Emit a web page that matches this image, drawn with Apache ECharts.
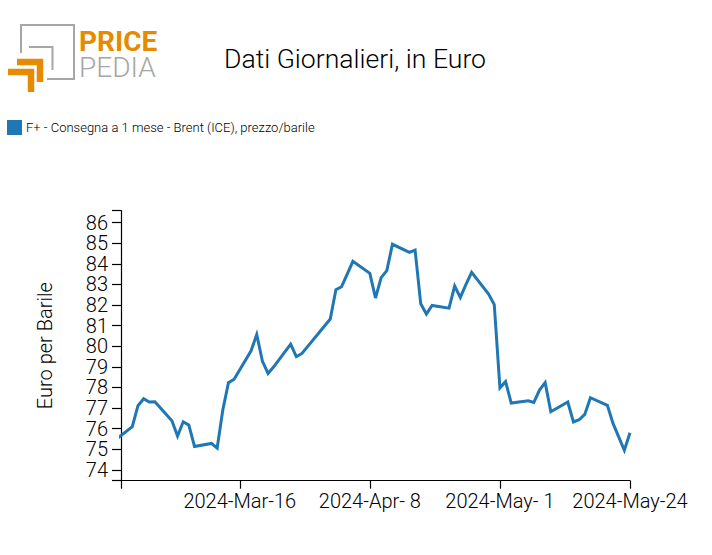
<!DOCTYPE html>
<html><head><meta charset="utf-8">
<script src="https://cdn.jsdelivr.net/npm/echarts@6/dist/echarts.min.js"></script>
<style>html,body{margin:0;padding:0;background:#fff}#c{width:712px;height:555px}</style>
</head><body><div id="c"></div>
<script>
const seriesName = 'F+ - Consegna a 1 mese - Brent (ICE), prezzo/barile';
const dates = ['2024-02-23','2024-02-26','2024-02-27','2024-02-28','2024-02-29','2024-03-01','2024-03-04','2024-03-05','2024-03-06','2024-03-07','2024-03-08','2024-03-11','2024-03-12','2024-03-13','2024-03-14','2024-03-15','2024-03-18','2024-03-19','2024-03-20','2024-03-21','2024-03-22','2024-03-25','2024-03-26','2024-03-27','2024-04-01','2024-04-02','2024-04-03','2024-04-04','2024-04-05','2024-04-08','2024-04-09','2024-04-10','2024-04-11','2024-04-12','2024-04-15','2024-04-16','2024-04-17','2024-04-18','2024-04-19','2024-04-22','2024-04-23','2024-04-24','2024-04-25','2024-04-26','2024-04-29','2024-04-30','2024-05-01','2024-05-02','2024-05-03','2024-05-06','2024-05-07','2024-05-08','2024-05-09','2024-05-10','2024-05-13','2024-05-14','2024-05-15','2024-05-16','2024-05-17','2024-05-20','2024-05-21','2024-05-22','2024-05-23','2024-05-24'];
const values = [75.45,76.09,77.11,77.45,77.29,77.30,76.38,75.64,76.33,76.17,75.13,75.28,75.05,76.90,78.23,78.40,79.78,80.57,79.28,78.68,79.0,80.10,79.49,79.65,81.32,82.74,82.89,83.5,84.12,83.54,82.34,83.33,83.67,84.95,84.56,84.67,82.06,81.56,81.98,81.85,82.92,82.37,83.0,83.59,82.53,82.02,77.98,78.28,77.24,77.35,77.27,77.87,78.23,76.82,77.29,76.32,76.43,76.69,77.5,77.13,76.25,75.6,74.95,75.8];
const yTicks = [74,75,76,77,78,79,80,81,82,83,84,85,86];
const yMin = 73.47, yMax = 86.58;
const xStart = '2024-02-24', xEnd = '2024-05-24';
const xTickDates = ['2024-03-16','2024-04-08','2024-05-01','2024-05-24'];
const xTickLabels = ['2024-Mar-16','2024-Apr- 8','2024-May- 1','2024-May-24'];
const FONT = 'Roboto';
const ts = d => new Date(d + 'T00:00:00Z').getTime();
const gray = '#a6a6a6', orange = '#e68a00';
const line = (points, stroke, lineWidth) => ({type:'polyline', shape:{points}, style:{stroke, lineWidth, fill:null}, silent:true});
const chart = echarts.init(document.getElementById('c'), null, {renderer:'svg'});
chart.setOption({
  animation:false,
  backgroundColor:'#fff',
  title:{text:'Dati Giornalieri, in Euro', left:350, top:40, textAlign:'center',
    textStyle:{fontFamily:FONT, fontWeight:300, fontSize:26.6, color:'#000'}},
  legend:{left:2, top:115, icon:'rect', itemWidth:15, itemHeight:15, itemGap:4,
    data:[seriesName], textStyle:{fontFamily:FONT, fontWeight:300, fontSize:13, color:'#000', padding:[0,0,0,-1]}},
  grid:{left:121, right:82, top:210.7, bottom:74.3, containLabel:false},
  xAxis:{type:'value', min:ts(xStart), max:ts(xEnd),
    splitLine:{show:false},
    axisLine:{show:true, onZero:false, lineStyle:{color:'#000', width:1.2}},
    axisTick:{show:true, length:8, lineStyle:{color:'#000', width:1.2}, customValues:[ts(xStart)].concat(xTickDates.map(ts))},
    axisLabel:{show:true, hideOverlap:false, showMinLabel:true, showMaxLabel:true, margin:10, fontFamily:FONT, fontWeight:300, fontSize:20, color:'#000',
      customValues:xTickDates.map(ts),
      formatter:v => { const i = xTickDates.map(ts).indexOf(+v); return i>=0 ? xTickLabels[i] : ''; }}},
  yAxis:{type:'value', min:yMin, max:yMax,
    name:'Euro per Barile', nameLocation:'middle', nameGap:66, nameRotate:90,
    nameTextStyle:{fontFamily:FONT, fontWeight:300, fontSize:20, color:'#000'},
    splitLine:{show:false},
    axisLine:{show:true, onZero:false, lineStyle:{color:'#000', width:1.2}},
    axisTick:{show:true, length:9, lineStyle:{color:'#000', width:1.2}, customValues:[yMin].concat(yTicks,[yMax])},
    axisLabel:{show:true, margin:13, fontFamily:FONT, fontWeight:300, fontSize:20, lineHeight:18, color:'#000', customValues:yTicks, formatter:v=>String(v)}},
  series:[{name:seriesName, type:'line', clip:true, showSymbol:false, symbol:'none', smooth:false,
    color:'#1f77b4', lineStyle:{color:'#1f77b4', width:3, join:'miter'},
    data:dates.map((d,i)=>[ts(d), values[i]])}],
  graphic:[
    line([[21,53],[21,25],[74,25],[74,79],[47,79]], gray, 2),
    line([[29,47],[52.5,47],[52.5,70]], gray, 2),
    line([[17,62],[40,62],[40,82]], orange, 6.5),
    line([[8,72],[31,72],[31,92]], orange, 6.5),
    {type:'text', left:79, top:27.5, silent:true, style:{text:'PRICE', fontFamily:FONT, fontWeight:700, fontSize:28, lineHeight:22, fill:orange}},
    {type:'text', left:79, top:53.5, silent:true, style:{text:'PEDIA', fontFamily:FONT, fontWeight:300, fontSize:28, lineHeight:22, fill:gray}}
  ]
});
</script></body></html>
